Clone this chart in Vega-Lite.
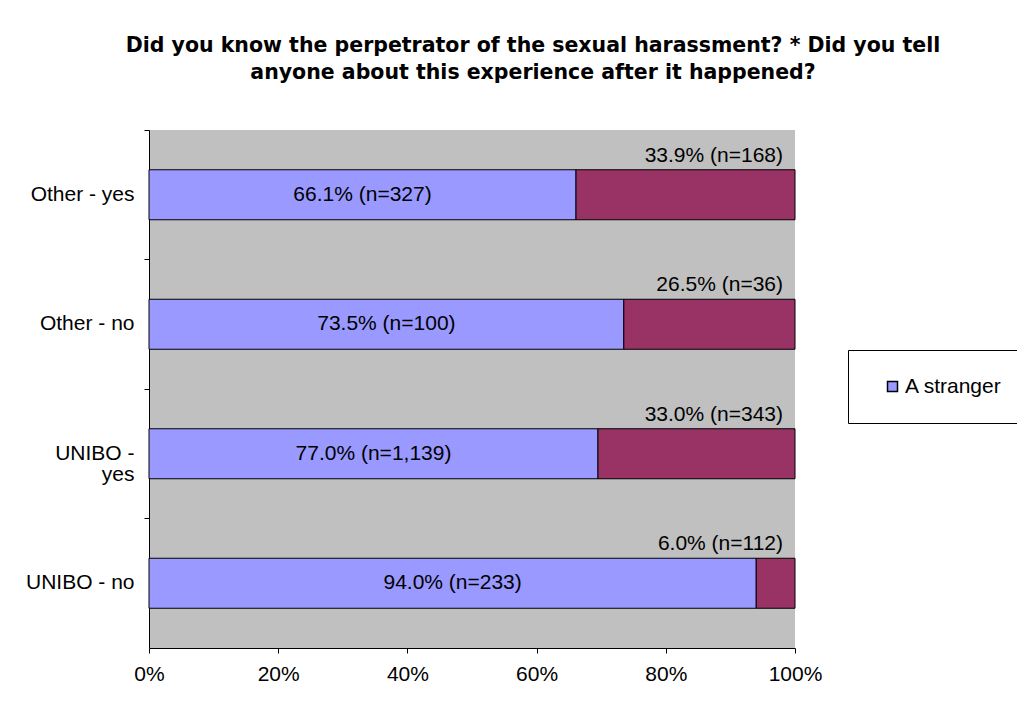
{
  "$schema": "https://vega.github.io/schema/vega-lite/v6.json",
  "width": 646,
  "height": 518,
  "autosize": {"type": "none"},
  "padding": {"left": 149, "top": 130, "right": 222, "bottom": 64},
  "background": "white",
  "title": {
    "text": ["Did you know the perpetrator of the sexual harassment? * Did you tell", "anyone about this experience after it happened?"],
    "font": "DejaVu Sans",
    "fontSize": 20.5,
    "fontWeight": "bold",
    "color": "black",
    "anchor": "middle",
    "dx": 61,
    "offset": 46,
    "lineHeight": 27
  },
  "data": {
    "values": [
      {"group": "Other - yes", "series": "A stranger", "order": 1, "value": 66.1, "label": "66.1% (n=327)"},
      {"group": "Other - yes", "series": "Someone known", "order": 2, "value": 33.9, "label": "33.9% (n=168)"},
      {"group": "Other -  no", "series": "A stranger", "order": 1, "value": 73.5, "label": "73.5% (n=100)"},
      {"group": "Other -  no", "series": "Someone known", "order": 2, "value": 26.5, "label": "26.5% (n=36)"},
      {"group": "UNIBO - yes", "series": "A stranger", "order": 1, "value": 69.5, "label": "77.0% (n=1,139)"},
      {"group": "UNIBO - yes", "series": "Someone known", "order": 2, "value": 30.5, "label": "33.0% (n=343)"},
      {"group": "UNIBO - no", "series": "A stranger", "order": 1, "value": 94.0, "label": "94.0% (n=233)"},
      {"group": "UNIBO - no", "series": "Someone known", "order": 2, "value": 6.0, "label": "6.0% (n=112)"}
    ]
  },
  "encoding": {
    "y": {
      "field": "group",
      "type": "nominal",
      "sort": ["Other - yes", "Other -  no", "UNIBO - yes", "UNIBO - no"],
      "scale": {"paddingInner": 0, "paddingOuter": 0},
      "axis": {
        "title": null,
        "bandPosition": 0,
        "domainColor": "black",
        "tickColor": "black",
        "tickSize": 5,
        "labelFont": "Liberation Sans",
        "labelFontSize": 21,
        "labelColor": "black",
        "labelPadding": 10,
        "labelLimit": 200,
        "labelLineHeight": 21,
        "labelExpr": "datum.value == 'UNIBO - yes' ? ['UNIBO -', 'yes'] : datum.value"
      }
    }
  },
  "layer": [
    {
      "mark": {"type": "bar", "height": 50, "stroke": "black", "strokeWidth": 1},
      "encoding": {
        "x": {
          "field": "value",
          "type": "quantitative",
          "stack": "zero",
          "scale": {"domain": [0, 100], "nice": false},
          "axis": {
            "title": null,
            "values": [0, 20, 40, 60, 80, 100],
            "labelExpr": "datum.value + '%'",
            "labelFlush": false,
            "grid": false,
            "domainColor": "black",
            "tickColor": "black",
            "tickSize": 5,
            "labelFont": "Liberation Sans",
            "labelFontSize": 21,
            "labelColor": "black",
            "labelPadding": 10
          }
        },
        "order": {"field": "order"},
        "color": {
          "field": "series",
          "type": "nominal",
          "scale": {"domain": ["A stranger", "Someone known"], "range": ["#9999FF", "#993366"]},
          "legend": {
            "title": null,
            "values": ["A stranger"],
            "orient": "none",
            "legendX": 699,
            "legendY": 220,
            "strokeColor": "black",
            "fillColor": "white",
            "padding": 26,
            "symbolOffset": 8,
            "symbolType": "square",
            "symbolSize": 100,
            "symbolStrokeColor": "black",
            "symbolStrokeWidth": 1.5,
            "labelFont": "Liberation Sans",
            "labelFontSize": 21,
            "labelColor": "black",
            "labelOffset": 2
          }
        }
      }
    },
    {
      "transform": [{"filter": "datum.series == 'A stranger'"}],
      "mark": {"type": "text", "font": "Liberation Sans", "fontSize": 21, "color": "black"},
      "encoding": {
        "x": {"field": "value", "type": "quantitative", "stack": "zero", "bandPosition": 0.5},
        "text": {"field": "label"}
      }
    },
    {
      "transform": [{"filter": "datum.series == 'Someone known'"}],
      "mark": {"type": "text", "font": "Liberation Sans", "fontSize": 21, "color": "black", "align": "right", "dx": -12, "dy": -39},
      "encoding": {
        "x": {"datum": 100, "type": "quantitative"},
        "text": {"field": "label"}
      }
    }
  ],
  "config": {
    "view": {"fill": "#C0C0C0", "stroke": null}
  }
}
